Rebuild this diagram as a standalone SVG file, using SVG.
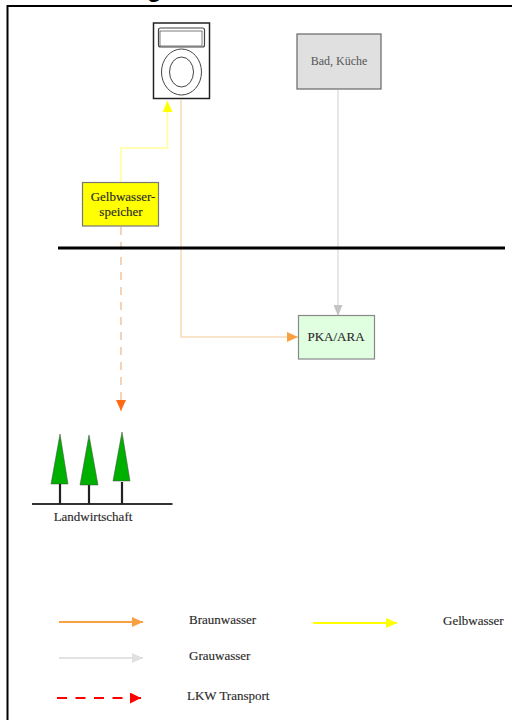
<svg xmlns="http://www.w3.org/2000/svg" width="512" height="720" viewBox="0 0 512 720">
<style>
text{font-family:"Liberation Serif",serif;font-size:13px;fill:#2a2a2a;stroke:#2a2a2a;stroke-width:.15}
.c{fill:none;stroke-width:1.6}
.l{fill:none;stroke-width:2.2}
</style>
<defs>
<marker id="ao" markerUnits="userSpaceOnUse" markerWidth="11" markerHeight="10" refX="11" refY="5" orient="auto"><path d="M0 0L11 5L0 10Z" fill="#f9a040"/></marker>
<marker id="ay" markerUnits="userSpaceOnUse" markerWidth="11" markerHeight="10" refX="11" refY="5" orient="auto"><path d="M0 0L11 5L0 10Z" fill="#ffff00"/></marker>
<marker id="ag" markerUnits="userSpaceOnUse" markerWidth="11" markerHeight="9" refX="11" refY="4.500" orient="auto"><path d="M0 0L11 4.500L0 9Z" fill="#c4c4c4"/></marker>
<marker id="al" markerUnits="userSpaceOnUse" markerWidth="11" markerHeight="10" refX="11" refY="5" orient="auto"><path d="M0 0L11 5L0 10Z" fill="#e0e0e0"/></marker>
<marker id="ar" markerUnits="userSpaceOnUse" markerWidth="11" markerHeight="11" refX="11" refY="5.500" orient="auto"><path d="M0 0L11 5.500L0 11Z" fill="#ff0000"/></marker>
<marker id="at" markerUnits="userSpaceOnUse" markerWidth="11" markerHeight="10" refX="11" refY="5" orient="auto"><path d="M0 0L11 5L0 10Z" fill="#ff6a13"/></marker>
</defs>
<rect width="512" height="720" fill="#fff"/>
<text x="147" y="-3" style="font-family:'Liberation Sans',sans-serif;font-size:24px;font-weight:bold;fill:#000;stroke:none">g</text>
<path d="M7.500 720V6H512" fill="none" stroke="#000" stroke-width="2"/>
<g id="connectors">
<path class="c" d="M121 182V148H167.500V101" stroke="#ffff99" marker-end="url(#ay)"/>
<path class="c" d="M181 100V337H298" stroke="#f5dcb8" marker-end="url(#ao)"/>
<path class="c" d="M338 90V316" stroke="#e2e2e2" marker-end="url(#ag)"/>
<path class="c" d="M121 227V411" stroke="#f2c8a5" stroke-width="2" stroke-dasharray="8 7" marker-end="url(#at)"/>
<path d="M58 248H505" stroke="#000" stroke-width="3"/>
</g>
<g id="toilet" fill="none" stroke="#444">
<rect x="153.500" y="23" width="56" height="75.500" fill="#fff" stroke="#222" stroke-width="1.500"/>
<rect x="158.500" y="28" width="46" height="19" rx="2" stroke-width="1.200"/>
<rect x="160" y="31" width="42" height="15" stroke-width=".7"/>
<ellipse cx="181.500" cy="72" rx="20" ry="23" stroke-width="1"/>
<ellipse cx="181.500" cy="72" rx="12" ry="15" stroke-width="1"/>
</g>
<g id="bad-kueche">
<rect x="297" y="34" width="84" height="55" fill="#e0e0e0" stroke="#666" stroke-width="1.200"/>
<text x="339" y="65" text-anchor="middle" style="fill:#555;stroke:none;font-size:12px">Bad, Küche</text>
</g>
<g id="gelbwasserspeicher">
<rect x="82.500" y="182.500" width="76" height="43.500" fill="#ffff00" stroke="#777" stroke-width="1.200"/>
<text x="123" y="201" text-anchor="middle">Gelbwasser-</text>
<text x="121" y="216" text-anchor="middle">speicher</text>
</g>
<g id="pka-ara">
<rect x="298.500" y="315.500" width="76" height="43.500" fill="#e0ffe0" stroke="#888" stroke-width="1.200"/>
<text x="336" y="341" text-anchor="middle">PKA/ARA</text>
</g>
<g id="landwirtschaft">
<path d="M32 504H172.500" stroke="#333" stroke-width="2"/>
<path d="M60 484V504M89 485V504M122 482V504" stroke="#222" stroke-width="2.200"/>
<path d="M60 434L68 484H51Z M89 435L98 485H80Z M122 432L130 481H113Z" fill="#00b000" stroke="#444" stroke-width=".5"/>
<text x="93" y="521" text-anchor="middle">Landwirtschaft</text>
</g>
<g id="legende">
<path class="l" d="M59 622H143" stroke="#f9a040" marker-end="url(#ao)"/>
<path class="l" d="M313 623H397" stroke="#ffff00" marker-end="url(#ay)"/>
<path class="l" d="M59 658H143" stroke="#e2e2e2" marker-end="url(#al)"/>
<path class="l" d="M57 698H141" stroke="#ff0000" stroke-dasharray="10 8.500" marker-end="url(#ar)"/>
<text x="189" y="624">Braunwasser</text>
<text x="443" y="625">Gelbwasser</text>
<text x="189" y="660">Grauwasser</text>
<text x="187" y="700">LKW Transport</text>
</g>
</svg>
